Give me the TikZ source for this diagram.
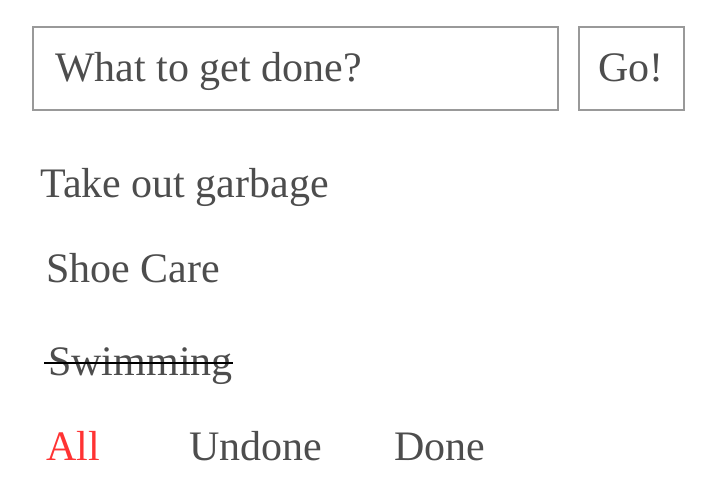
\documentclass[tikz,border=0pt]{standalone}
\usepackage{fontspec}
\setmainfont{Liberation Serif}
\usetikzlibrary{positioning}

\definecolor{inktext}{HTML}{4D4D4D}
\definecolor{boxline}{HTML}{999999}
\definecolor{activered}{HTML}{FF3333}

\begin{document}
\begin{tikzpicture}[
                x = 1pt, y = -1pt, % pixel grid, y downwards
                semithick % line style
            ]

            \tikzstyle{every node}=[
            inner sep = 0pt,
            text = inktext,
            font = \fontsize{42}{50}\selectfont
            ]
            \tikzstyle{field}=[draw = boxline, line width = 2pt, rectangle]
            \tikzstyle{label}=[anchor = base west]
            \tikzstyle{strike}=[draw = black, line width = 2pt]

            \useasboundingbox (0,0) rectangle (714,500);

            % input row
            \node (input) [field, minimum width = 525pt, minimum height = 83pt] at (295.5,68.5) {};
            \node (go) [field, minimum width = 105pt, minimum height = 83pt] at (631,68.5) {};
            \node (prompt) [label] at (55,82) {What to get done?};
            \node (gotext) [anchor = base] at (go.center |- 0,82) {Go!};

            % todo items
            \node (garbage) [label] at (40,197) {Take out garbage};
            \node (shoe) [label] at (46,282) {Shoe Care};
            \node (swim) [label] at (48,375) {Swimming};
            \draw[strike] ([shift={(-4,-12.5)}]swim.base west) -- ([shift={(0,-12.5)}]swim.base east);

            % filters
            \node (all) [label, text = activered] at (46,460) {All};
            \node (undone) [label] at (189,460) {Undone};
            \node (done) [label] at (394,460) {Done};
        \end{tikzpicture}
\end{document}
